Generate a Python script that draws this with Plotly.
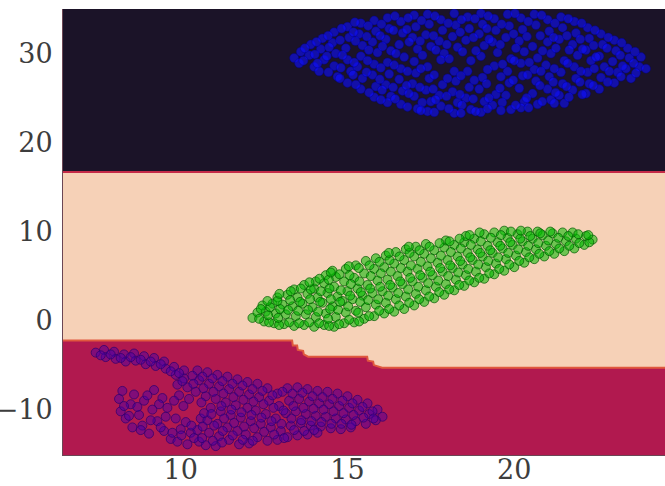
import plotly.graph_objects as go

# ---------------- data ----------------
x_range = [6.47, 24.52]
y_range = [-15.1, 35.0]
x_ticks = [10, 15, 20]
y_ticks = [-10, 0, 10, 20, 30]

top_boundary_x = [6.47, 24.52]
top_boundary_y = [16.7, 16.7]

bottom_boundary_x = [6.47, 13.34, 13.36, 13.49, 13.51, 13.67, 13.69, 13.82, 15.59, 15.61, 15.77, 15.79, 16.04, 24.52]
bottom_boundary_y = [-2.25, -2.25, -2.8, -2.8, -3.3, -3.4, -3.8, -4.05, -4.05, -4.5, -4.6, -5.0, -5.3, -5.3]

blue_points = [
    (13.4, 29.5), (13.6, 30.2), (13.55, 28.9),
    (13.9, 31.0), (13.85, 29.8), (14.0, 28.5),
    (14.25, 31.7), (14.2, 30.5), (14.3, 29.3), (14.15, 28.0),
    (14.6, 32.4), (14.55, 31.2), (14.65, 30.0), (14.6, 28.6), (14.7, 27.4),
    (15.0, 33.0), (15.05, 31.8), (14.95, 30.6), (15.0, 29.3), (15.1, 28.0), (15.0, 26.7),
    (15.4, 33.4), (15.35, 32.2), (15.45, 30.9), (15.4, 29.7), (15.3, 28.5), (15.45, 27.2), (15.4, 26.0),
    (15.8, 33.7), (15.85, 32.5), (15.75, 31.3), (15.9, 30.1), (15.8, 28.8), (15.75, 27.6), (15.85, 26.3), (15.8, 25.1),
    (16.2, 34.0), (16.25, 32.8), (16.15, 31.6), (16.3, 30.3), (16.2, 29.0), (16.25, 27.7), (16.15, 26.5), (16.3, 25.2), (16.2, 24.5),
    (16.6, 33.6), (16.65, 32.3), (16.55, 31.0), (16.7, 29.6), (16.6, 28.3), (16.55, 27.1), (16.65, 25.8), (16.6, 24.3),
    (17.0, 34.3), (17.05, 33.0), (16.95, 31.8), (17.1, 30.5), (17.0, 29.1), (17.05, 27.8), (16.95, 26.6), (17.0, 25.2), (17.1, 23.8),
    (17.4, 34.4), (17.45, 33.3), (17.35, 32.1), (17.5, 30.8), (17.4, 28.5), (17.45, 27.2), (17.35, 25.9), (17.5, 24.6), (17.4, 23.5),
    (17.8, 33.8), (17.85, 32.6), (17.75, 31.4), (17.9, 30.0), (17.8, 29.3), (17.85, 26.5), (17.75, 25.3), (17.8, 24.1),
    (18.2, 34.5), (18.25, 33.2), (18.15, 31.9), (18.3, 30.7), (18.2, 28.0), (18.25, 26.9), (18.15, 25.7), (18.3, 24.5), (18.2, 23.3),
    (18.6, 34.1), (18.65, 32.8), (18.55, 31.5), (18.7, 29.2), (18.6, 28.0), (18.65, 26.2), (18.55, 25.0), (18.7, 23.7),
    (19.0, 34.5), (19.05, 33.3), (18.95, 32.2), (19.1, 30.9), (19.0, 29.7), (19.05, 27.3), (18.95, 26.0), (19.1, 24.6), (19.0, 23.4),
    (19.4, 33.9), (19.45, 32.6), (19.35, 31.3), (19.5, 30.1), (19.4, 28.6), (19.45, 25.4), (19.35, 24.2),
    (19.8, 34.4), (19.85, 33.1), (19.75, 31.8), (19.9, 29.4), (19.8, 28.0), (19.85, 26.7), (19.75, 25.3), (19.9, 23.7),
    (20.2, 34.0), (20.25, 32.7), (20.15, 31.4), (20.3, 30.2), (20.2, 28.9), (20.25, 27.5), (20.15, 26.1), (20.3, 24.6), (20.2, 23.9),
    (20.6, 34.4), (20.65, 33.2), (20.55, 30.8), (20.7, 29.5), (20.6, 28.2), (20.65, 26.9), (20.55, 25.5), (20.7, 24.3),
    (21.0, 33.8), (21.05, 32.5), (21.0, 31.3), (21.1, 30.0), (20.95, 28.7), (21.05, 27.4), (21.0, 26.0), (21.1, 24.8),
    (21.4, 34.1), (21.45, 32.9), (21.35, 31.6), (21.5, 29.2), (21.4, 27.9), (21.45, 26.6), (21.35, 25.3), (21.5, 24.4),
    (21.8, 33.6), (21.85, 32.3), (21.75, 31.0), (21.9, 29.8), (21.8, 28.5), (21.85, 27.2), (21.75, 25.9),
    (22.2, 32.9), (22.25, 31.7), (22.15, 30.4), (22.3, 29.2), (22.2, 27.9), (22.25, 26.6), (22.15, 25.5),
    (22.6, 32.2), (22.65, 31.0), (22.55, 29.7), (22.7, 28.5), (22.6, 27.3), (22.55, 26.0),
    (23.0, 31.5), (23.05, 30.3), (22.95, 29.1), (23.1, 27.9), (23.0, 26.7),
    (23.4, 30.6), (23.45, 29.5), (23.35, 28.3), (23.5, 27.2),
    (23.8, 29.6), (23.75, 28.5), (23.95, 28.3),
    # second pass
    (13.72, 30.6), (13.68, 29.2),
    (14.07, 31.3), (14.02, 29.9), (14.1, 28.9),
    (14.42, 32.0), (14.45, 30.7), (14.38, 29.7), (14.43, 27.9),
    (14.82, 32.8), (14.78, 31.5), (14.85, 29.8), (14.8, 28.4), (14.77, 27.2),
    (15.22, 33.5), (15.18, 32.4), (15.24, 31.4), (15.2, 29.0), (15.17, 27.6), (15.25, 26.5),
    (15.62, 33.1), (15.58, 31.9), (15.64, 30.4), (15.6, 29.2), (15.57, 27.9), (15.65, 25.6),
    (16.02, 33.3), (15.98, 32.0), (16.05, 30.8), (16.0, 28.4), (15.97, 27.1), (16.04, 25.9), (16.0, 24.8),
    (16.42, 34.2), (16.38, 32.6), (16.45, 30.0), (16.4, 28.7), (16.37, 26.2), (16.43, 24.9),
    (16.82, 34.0), (16.78, 32.7), (16.85, 31.3), (16.8, 28.0), (16.77, 26.4), (16.84, 25.5), (16.8, 24.0),
    (17.22, 33.7), (17.18, 31.4), (17.25, 29.8), (17.2, 28.3), (17.17, 26.2), (17.24, 24.5), (17.2, 23.6),
    (17.62, 34.2), (17.58, 32.0), (17.65, 30.4), (17.6, 27.6), (17.57, 26.0), (17.64, 24.8), (17.6, 23.4),
    (18.02, 33.4), (17.98, 31.0), (18.05, 29.4), (18.0, 27.2), (17.97, 25.2), (18.04, 23.8),
    (18.42, 33.8), (18.38, 32.4), (18.45, 30.2), (18.4, 27.5), (18.37, 25.4), (18.43, 24.2), (18.4, 23.3),
    (18.82, 33.9), (18.78, 31.8), (18.85, 30.3), (18.8, 27.0), (18.77, 24.9), (18.84, 23.5),
    (19.22, 34.2), (19.18, 32.8), (19.25, 31.6), (19.2, 28.2), (19.17, 26.6), (19.24, 25.0), (19.2, 23.8),
    (19.62, 33.3), (19.58, 31.0), (19.65, 28.8), (19.6, 27.4), (19.57, 26.1), (19.64, 24.5), (19.6, 23.6),
    (20.02, 34.5), (19.98, 32.2), (20.05, 30.6), (20.0, 29.2), (19.97, 27.0), (20.04, 24.2),
    (20.42, 33.6), (20.38, 31.9), (20.45, 29.0), (20.4, 27.6), (20.37, 25.0), (20.43, 23.9),
    (20.82, 34.3), (20.78, 32.0), (20.85, 30.3), (20.8, 28.0), (20.77, 26.4), (20.84, 24.6),
    (21.22, 33.4), (21.18, 31.8), (21.25, 30.6), (21.2, 28.3), (21.17, 26.8), (21.24, 25.6), (21.2, 24.4),
    (21.62, 33.9), (21.58, 32.0), (21.65, 30.4), (21.6, 28.9), (21.57, 26.3), (21.64, 25.1),
    (22.02, 33.4), (21.98, 31.6), (22.05, 30.5), (22.0, 28.0), (21.97, 26.8), (22.04, 25.4),
    (22.42, 32.6), (22.38, 30.9), (22.45, 29.6), (22.4, 28.3), (22.37, 26.4),
    (22.82, 31.8), (22.78, 30.6), (22.85, 28.0), (22.8, 26.8),
    (23.22, 31.2), (23.18, 29.8), (23.25, 28.6), (23.2, 27.4),
    (23.62, 30.2), (23.58, 28.9), (23.65, 27.8),
]

green_points = [
    (12.15, 0.3), (12.3, 0.9),
    (12.5, -0.1), (12.55, 1.0), (12.45, 1.7),
    (12.8, -0.3), (12.85, 0.8), (12.75, 1.9), (12.9, 2.6),
    (13.1, -0.4), (13.15, 0.7), (13.05, 1.8), (13.2, 2.9),
    (13.4, -0.6), (13.45, 0.5), (13.35, 1.6), (13.5, 2.6), (13.4, 3.5),
    (13.7, -0.5), (13.75, 0.7), (13.65, 1.9), (13.8, 3.0), (13.7, 4.0),
    (14.0, -0.7), (14.05, 0.4), (13.95, 1.5), (14.1, 2.6), (14.0, 3.6), (14.05, 4.4),
    (14.3, -0.5), (14.35, 0.8), (14.25, 2.0), (14.4, 3.1), (14.3, 4.2), (14.35, 5.1),
    (14.6, -0.7), (14.65, 0.4), (14.55, 1.6), (14.7, 2.7), (14.6, 3.8), (14.65, 4.9), (14.55, 5.6),
    (14.9, -0.3), (14.95, 0.9), (14.85, 2.2), (15.0, 3.3), (14.9, 4.4), (14.95, 5.8),
    (15.2, -0.2), (15.25, 1.1), (15.15, 2.4), (15.3, 3.6), (15.2, 4.8), (15.25, 6.2),
    (15.5, 0.2), (15.55, 1.5), (15.45, 2.8), (15.6, 4.0), (15.5, 5.3), (15.55, 6.7),
    (15.8, 0.5), (15.85, 1.8), (15.75, 3.1), (15.9, 4.5), (15.8, 5.8), (15.85, 7.0),
    (16.1, 0.8), (16.15, 2.0), (16.05, 3.3), (16.2, 4.6), (16.1, 6.0), (16.15, 7.3),
    (16.4, 1.0), (16.45, 2.4), (16.35, 3.7), (16.5, 5.0), (16.4, 6.4), (16.45, 7.7),
    (16.7, 1.3), (16.75, 2.7), (16.65, 4.1), (16.8, 5.5), (16.7, 6.8), (16.75, 8.0),
    (17.0, 1.7), (17.05, 3.0), (16.95, 4.4), (17.1, 5.8), (17.0, 7.2), (17.05, 8.3),
    (17.3, 2.1), (17.35, 3.4), (17.25, 4.8), (17.4, 6.1), (17.3, 7.5), (17.35, 8.6),
    (17.6, 2.5), (17.65, 3.8), (17.55, 5.1), (17.7, 6.5), (17.6, 7.9),
    (17.9, 2.9), (17.95, 4.1), (17.85, 5.5), (18.0, 6.8), (17.9, 8.2), (17.95, 9.0),
    (18.2, 3.4), (18.25, 4.6), (18.15, 5.9), (18.3, 7.2), (18.2, 8.5),
    (18.5, 3.9), (18.55, 5.1), (18.45, 6.3), (18.6, 7.6), (18.5, 8.8), (18.55, 9.5),
    (18.8, 4.3), (18.85, 5.5), (18.75, 6.8), (18.9, 8.0), (18.8, 9.2),
    (19.1, 4.7), (19.15, 6.0), (19.05, 7.2), (19.2, 8.4), (19.1, 9.7),
    (19.4, 5.2), (19.45, 6.4), (19.35, 7.6), (19.5, 8.8), (19.4, 9.9),
    (19.7, 5.6), (19.75, 6.9), (19.65, 8.1), (19.8, 9.3), (19.7, 10.1),
    (20.0, 6.0), (20.05, 7.3), (19.95, 8.5), (20.1, 9.7),
    (20.3, 6.5), (20.35, 7.7), (20.25, 8.9), (20.4, 10.0),
    (20.6, 6.9), (20.65, 8.0), (20.55, 9.2), (20.7, 10.0),
    (20.9, 7.2), (20.95, 8.4), (20.85, 9.6),
    (21.2, 7.5), (21.25, 8.6), (21.15, 9.8),
    (21.5, 7.8), (21.55, 8.9), (21.45, 9.9),
    (21.8, 8.1), (21.85, 9.2), (21.75, 9.9),
    (22.1, 8.5), (22.15, 9.5),
    (22.35, 9.1),
    # second pass
    (12.35, 0.2), (12.4, 1.3),
    (12.65, -0.2), (12.62, 0.6), (12.68, 1.5), (12.6, 2.2),
    (12.95, -0.5), (12.92, 0.3), (12.98, 1.3), (12.9, 2.2), (12.96, 3.0),
    (13.25, -0.2), (13.22, 1.2), (13.28, 2.3), (13.3, 3.3),
    (13.55, -0.3), (13.52, 1.1), (13.58, 2.1), (13.6, 3.6),
    (13.85, -0.2), (13.82, 1.2), (13.88, 2.4), (13.9, 3.5), (13.86, 4.3),
    (14.15, -0.3), (14.12, 1.0), (14.18, 2.1), (14.2, 3.3), (14.16, 4.7),
    (14.45, -0.6), (14.42, 0.2), (14.48, 1.3), (14.5, 2.4), (14.46, 3.6), (14.44, 4.6), (14.5, 5.4),
    (14.75, -0.4), (14.72, 1.2), (14.78, 2.1), (14.8, 3.4), (14.76, 5.2),
    (15.05, 0.1), (15.02, 1.6), (15.08, 2.8), (15.1, 4.1), (15.06, 5.1), (15.04, 6.1),
    (15.35, -0.1), (15.32, 0.9), (15.38, 2.1), (15.4, 3.2), (15.36, 4.4), (15.34, 5.9),
    (15.65, 0.5), (15.62, 2.3), (15.68, 3.6), (15.7, 5.0), (15.66, 6.2),
    (15.95, 1.1), (15.92, 2.4), (15.98, 3.8), (16.0, 5.3), (15.96, 6.6),
    (16.25, 1.3), (16.22, 2.8), (16.28, 4.0), (16.3, 5.5), (16.26, 6.8), (16.24, 7.6),
    (16.55, 1.7), (16.52, 3.1), (16.58, 4.4), (16.6, 5.9), (16.56, 7.2),
    (16.85, 2.0), (16.82, 3.5), (16.88, 4.8), (16.9, 6.2), (16.86, 7.6), (16.84, 8.3),
    (17.15, 2.4), (17.12, 3.8), (17.18, 5.1), (17.2, 6.6), (17.16, 7.9),
    (17.45, 2.7), (17.42, 4.2), (17.48, 5.5), (17.5, 7.0), (17.46, 8.3),
    (17.75, 3.2), (17.72, 4.5), (17.78, 5.9), (17.8, 7.3), (17.76, 8.7),
    (18.05, 3.5), (18.02, 5.0), (18.08, 6.2), (18.1, 7.7), (18.06, 8.9),
    (18.35, 4.0), (18.32, 5.4), (18.38, 6.7), (18.4, 8.1), (18.36, 9.2),
    (18.65, 4.5), (18.62, 5.8), (18.68, 7.1), (18.7, 8.5), (18.66, 9.6),
    (18.95, 4.8), (18.92, 6.3), (18.98, 7.6), (19.0, 8.9), (18.96, 9.9),
    (19.25, 5.3), (19.22, 6.7), (19.28, 7.9), (19.3, 9.3),
    (19.55, 5.8), (19.52, 7.1), (19.58, 8.4), (19.6, 9.6),
    (19.85, 6.3), (19.82, 7.6), (19.88, 8.8), (19.9, 10.0),
    (20.15, 6.7), (20.12, 8.0), (20.18, 9.2), (20.2, 10.1),
    (20.45, 7.1), (20.42, 8.4), (20.48, 9.5),
    (20.75, 7.5), (20.72, 8.7), (20.78, 9.8),
    (21.05, 7.8), (21.02, 9.0), (21.08, 10.0),
    (21.35, 8.1), (21.32, 9.3),
    (21.65, 8.4), (21.62, 9.5),
    (21.95, 8.7), (21.92, 9.7),
    (22.25, 8.8), (22.22, 9.6),
]

purple_points = [
    (7.45, -3.6), (7.7, -3.3), (7.75, -4.1), (8.0, -3.5), (8.05, -4.3), (8.3, -3.8), (8.35, -4.6),
    (8.6, -3.7), (8.65, -4.5), (8.9, -4.0), (8.95, -4.9), (9.2, -4.2), (9.25, -5.1), (9.5, -4.6),
    (9.55, -5.4), (9.8, -5.2), (9.85, -6.1), (10.1, -5.6), (10.1, -6.5),
    (8.15, -8.8), (8.25, -7.9), (8.2, -10.2), (8.35, -11.0), (8.5, -9.4), (8.55, -12.0), (8.6, -8.3),
    (8.75, -10.6), (8.85, -11.8), (8.9, -9.0), (9.05, -12.7), (9.15, -10.0), (9.2, -7.8), (9.3, -11.3),
    (9.45, -8.7), (9.5, -12.4), (9.6, -9.8), (9.7, -13.3),
    (9.9, -7.2), (9.95, -8.4), (9.85, -11.0), (10.0, -12.2), (9.9, -13.6),
    (10.2, -7.5), (10.25, -8.8), (10.15, -11.4), (10.3, -12.6), (10.2, -13.9),
    (10.5, -5.6), (10.55, -6.7), (10.45, -8.0), (10.6, -11.0), (10.5, -12.3), (10.55, -13.6),
    (10.8, -5.8), (10.85, -7.1), (10.75, -8.5), (10.9, -9.8), (10.8, -11.2), (10.85, -12.6), (10.75, -14.0),
    (11.1, -6.1), (11.15, -7.4), (11.05, -8.8), (11.2, -10.2), (11.1, -11.6), (11.15, -13.0), (11.05, -14.1),
    (11.4, -6.3), (11.45, -7.7), (11.35, -9.2), (11.5, -10.6), (11.4, -12.0), (11.45, -13.4),
    (11.7, -6.6), (11.75, -8.0), (11.65, -9.5), (11.8, -10.9), (11.7, -12.4), (11.75, -13.9),
    (12.0, -6.9), (12.05, -8.3), (12.0, -9.8), (12.1, -11.3), (11.95, -12.8), (12.05, -13.8),
    (12.3, -7.1), (12.35, -8.6), (12.25, -10.1), (12.4, -11.6), (12.3, -13.1),
    (12.6, -7.6), (12.65, -9.0), (12.55, -10.5), (12.7, -12.0), (12.6, -13.5),
    (12.9, -8.2), (12.95, -9.6), (12.85, -11.0), (13.0, -12.4), (12.9, -13.4),
    (13.2, -7.6), (13.25, -9.0), (13.15, -10.4), (13.3, -11.8), (13.2, -13.1),
    (13.5, -7.5), (13.55, -8.8), (13.45, -10.2), (13.6, -11.5), (13.5, -12.9),
    (13.8, -7.7), (13.85, -9.1), (13.75, -10.5), (13.9, -11.8), (13.8, -12.8),
    (14.1, -7.9), (14.15, -9.3), (14.05, -10.7), (14.2, -11.9), (14.1, -12.6),
    (14.4, -8.0), (14.45, -9.4), (14.35, -10.8), (14.5, -12.1),
    (14.7, -8.2), (14.75, -9.6), (14.65, -11.0), (14.8, -12.2),
    (15.0, -8.5), (15.05, -9.8), (14.95, -11.1), (15.1, -12.0),
    (15.3, -8.9), (15.35, -10.1), (15.25, -11.3),
    (15.6, -9.3), (15.65, -10.5), (15.55, -11.6),
    (15.9, -10.0), (16.05, -10.8), (15.85, -11.2),
    # second pass
    (7.6, -3.9), (7.9, -3.8), (8.2, -4.2), (8.5, -4.1), (8.8, -4.4), (9.1, -4.6), (9.4, -4.9),
    (9.7, -5.7), (9.95, -5.9),
    (8.3, -9.6), (8.45, -10.7), (8.7, -9.7), (8.8, -12.3), (9.0, -8.4), (9.1, -11.2), (9.35, -9.4),
    (9.4, -12.0), (9.55, -10.8), (9.75, -12.6), (9.8, -9.0),
    (10.05, -6.8), (10.08, -9.6), (10.02, -12.9),
    (10.35, -6.2), (10.38, -7.1), (10.32, -11.8), (10.4, -13.2),
    (10.65, -6.3), (10.68, -7.6), (10.62, -9.2), (10.7, -10.4), (10.66, -11.9), (10.64, -13.2),
    (10.95, -6.5), (10.98, -8.0), (10.92, -10.5), (11.0, -11.8), (10.96, -13.5),
    (11.25, -6.8), (11.28, -8.2), (11.22, -9.6), (11.3, -11.0), (11.26, -12.4), (11.24, -13.7),
    (11.55, -7.1), (11.58, -8.6), (11.52, -10.0), (11.6, -11.5), (11.56, -12.9),
    (11.85, -7.3), (11.88, -8.9), (11.82, -10.3), (11.9, -11.9), (11.86, -13.4),
    (12.15, -7.7), (12.18, -9.1), (12.12, -10.6), (12.2, -12.1), (12.16, -13.5),
    (12.45, -7.9), (12.48, -9.4), (12.42, -10.9), (12.5, -12.5),
    (12.75, -8.4), (12.78, -9.8), (12.72, -11.3), (12.8, -12.8),
    (13.05, -8.0), (13.08, -10.1), (13.02, -11.6), (13.1, -13.2),
    (13.35, -8.2), (13.38, -9.6), (13.32, -11.0), (13.4, -12.3),
    (13.65, -8.1), (13.68, -9.8), (13.62, -11.2), (13.7, -12.4),
    (13.95, -8.5), (13.98, -9.9), (13.92, -11.3), (14.0, -12.3),
    (14.25, -8.6), (14.28, -10.0), (14.22, -11.4),
    (14.55, -8.8), (14.58, -10.2), (14.52, -11.6),
    (14.85, -9.0), (14.88, -10.4), (14.82, -11.6),
    (15.15, -9.3), (15.18, -10.6), (15.12, -11.7),
    (15.45, -9.7), (15.48, -10.9),
    (15.75, -10.2), (15.78, -11.0),
]

# ---------------- colours ----------------
dark_color = "#1b1328"
peach_color = "#f6d1b7"
crimson_color = "#b1194f"

fig = go.Figure()

fig.add_trace(go.Scatter(
    x=top_boundary_x + [x_range[1], x_range[0]],
    y=top_boundary_y + [y_range[1], y_range[1]],
    fill="toself", fillcolor=dark_color, mode="none", hoverinfo="skip", showlegend=False))
fig.add_trace(go.Scatter(
    x=bottom_boundary_x + [x_range[1], x_range[0]],
    y=bottom_boundary_y + [y_range[0], y_range[0]],
    fill="toself", fillcolor=crimson_color, mode="none", hoverinfo="skip", showlegend=False))
fig.add_trace(go.Scatter(x=top_boundary_x, y=top_boundary_y, mode="lines",
                         line=dict(color="#c42a48", width=2), hoverinfo="skip", showlegend=False))
fig.add_trace(go.Scatter(x=bottom_boundary_x, y=bottom_boundary_y, mode="lines",
                         line=dict(color="#e0583e", width=2), hoverinfo="skip", showlegend=False))

def add_points(points, fill, edge):
    fig.add_trace(go.Scatter(
        x=[p[0] for p in points], y=[p[1] for p in points], mode="markers",
        marker=dict(size=9, color=fill, line=dict(color=edge, width=1)),
        showlegend=False))

add_points(blue_points, "rgba(15,15,255,0.6)", "rgba(0,0,140,0.4)")
add_points(green_points, "rgba(0,185,0,0.55)", "rgba(0,90,0,0.7)")
add_points(purple_points, "rgba(70,0,170,0.45)", "rgba(50,0,110,0.75)")

fig.update_layout(
    width=665, height=486,
    margin=dict(l=63, r=0, t=9, b=31),
    paper_bgcolor="white", plot_bgcolor=peach_color,
    font=dict(family="DejaVu Serif", size=27, color="#3d3d3d"),
)
fig.update_xaxes(range=x_range, tickvals=x_ticks, showgrid=False, zeroline=False,
                 ticks="", showline=True, linecolor="#6b4654", linewidth=1,
                 ticklabelstandoff=-9, automargin=False)
fig.update_yaxes(range=y_range, tickvals=y_ticks, showgrid=False, zeroline=False,
                 ticks="", showline=True, linecolor="#6b4654", linewidth=1,
                 ticklabelstandoff=4, automargin=False)

fig.write_html("out.html")
